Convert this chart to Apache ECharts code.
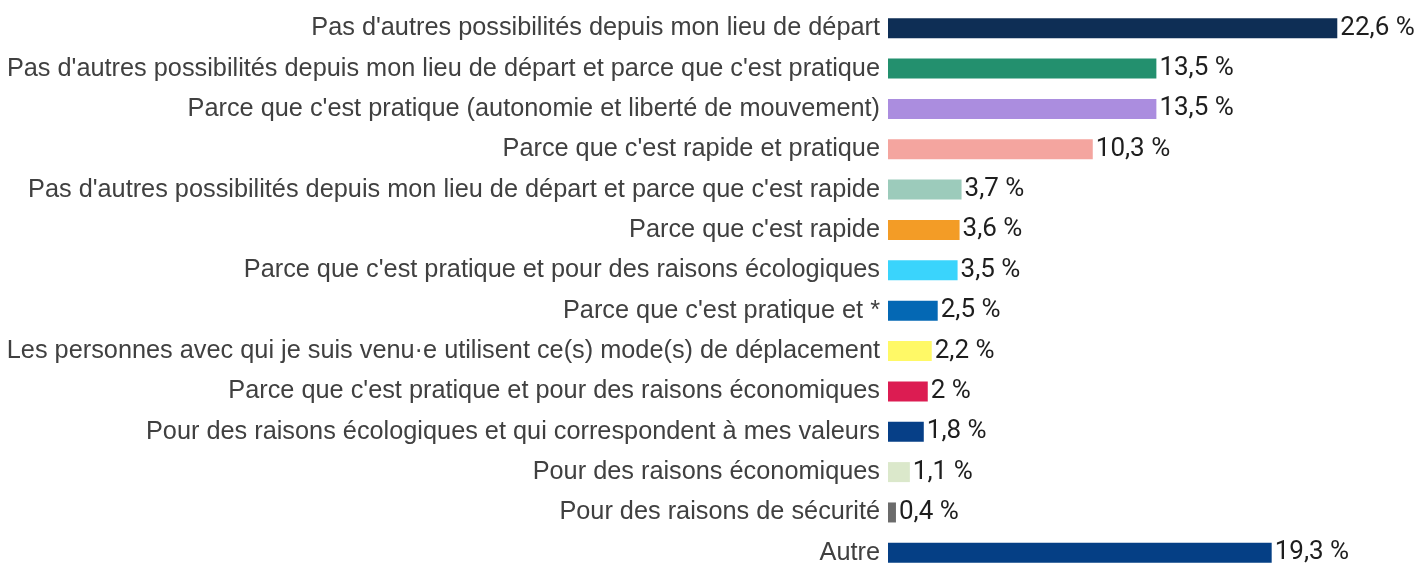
<!DOCTYPE html>
<html>
<head>
<meta charset="utf-8">
<script src="https://cdn.jsdelivr.net/npm/echarts@6/dist/echarts.min.js"></script>
<style>
  html, body { margin: 0; padding: 0; background: #fff; }
  #chart { width: 1423px; height: 566px; }
</style>
</head>
<body>
<div id="chart"></div>
<script>
const categories = [
    "Pas d'autres possibilités depuis mon lieu de départ",
    "Pas d'autres possibilités depuis mon lieu de départ et parce que c'est pratique",
    "Parce que c'est pratique (autonomie et liberté de mouvement)",
    "Parce que c'est rapide et pratique",
    "Pas d'autres possibilités depuis mon lieu de départ et parce que c'est rapide",
    "Parce que c'est rapide",
    "Parce que c'est pratique et pour des raisons écologiques",
    "Parce que c'est pratique et *",
    "Les personnes avec qui je suis venu·e utilisent ce(s) mode(s) de déplacement",
    "Parce que c'est pratique et pour des raisons économiques",
    "Pour des raisons écologiques et qui correspondent à mes valeurs",
    "Pour des raisons économiques",
    "Pour des raisons de sécurité",
    "Autre"
];
const values = [22.6, 13.5, 13.5, 10.3, 3.7, 3.6, 3.5, 2.5, 2.2, 2, 1.8, 1.1, 0.4, 19.3];
const colors = [
    '#0e2e55', '#23906e', '#ab8ddf', '#f4a59f', '#9ccbbb', '#f39c26', '#3ad4fc',
    '#0468b4', '#fff966', '#dc1c52', '#063f87', '#dbe8cb', '#6b6b6b', '#053f85'
];

var myChart = echarts.init(document.getElementById('chart'));

let option = {
    animation: false,
    grid: {
        left: 888,
        top: 8,
        width: 497,
        height: 565,
        outerBoundsMode: 'none'
    },
    xAxis: {
        type: 'value',
        min: 0,
        max: 25,
        show: false
    },
    yAxis: {
        type: 'category',
        inverse: true,
        data: categories,
        axisLine: { show: false },
        axisTick: { show: false },
        axisLabel: {
            margin: 8,
            color: '#404040',
            fontFamily: 'Liberation Sans',
            fontSize: 25.3
        }
    },
    series: [
        {
            type: 'bar',
            barWidth: 20,
            data: values.map((v, i) => ({
                value: v,
                itemStyle: { color: colors[i] }
            })),
            label: {
                show: true,
                position: 'right',
                distance: 3,
                color: '#1e1e1e',
                fontFamily: 'Roboto',
                fontSize: 26,
                formatter: p => String(p.value).replace('.', ',') + ' %'
            }
        }
    ]
};
myChart.setOption(option);
</script>
</body>
</html>
